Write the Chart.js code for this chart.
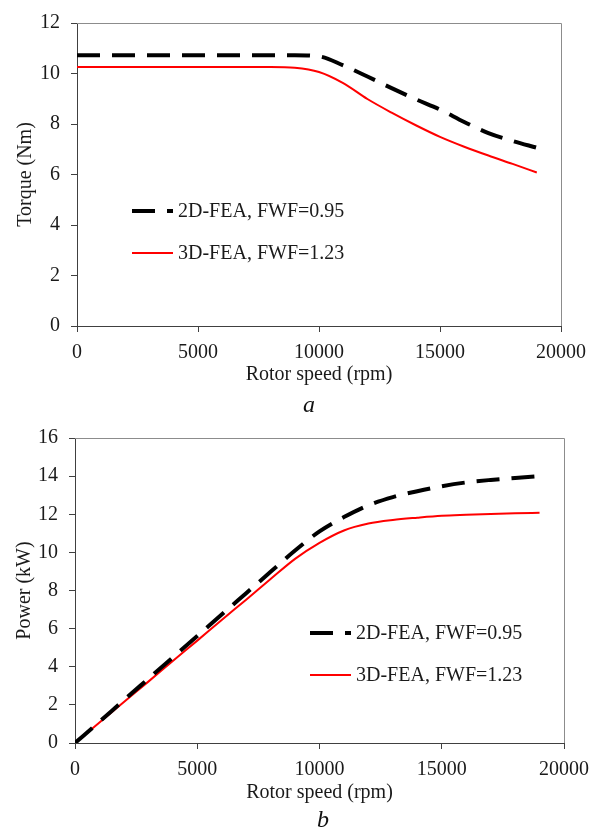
<!DOCTYPE html>
<html>
<head>
<meta charset="utf-8">
<script src="https://cdn.jsdelivr.net/npm/chart.js@4"></script>
<style>
  body { margin: 0; background: #fff; width: 601px; height: 834px; position: relative; overflow: hidden; font-family: 'Liberation Serif', 'Times New Roman', serif; }
  canvas { position: absolute; left: 0; }
  .cap { position: absolute; font-style: italic; font-size: 24px; color: #111; line-height: 24px; }
</style>
</head>
<body>
<canvas id="torqueChart" width="601" height="392" style="top:0"></canvas>
<div class="cap" style="left:303px;top:392px">a</div>
<canvas id="powerChart" width="601" height="392" style="top:415px"></canvas>
<div class="cap" style="left:317px;top:807px">b</div>
<script>
// rotor speed (rpm)
const rpm = [0, 1000, 2000, 3000, 4000, 5000, 6000, 7000, 8000, 9000,
             10000, 11000, 12000, 13000, 14000, 15000, 16000, 17000, 18000, 19000];

// torque (Nm)
const torque2D = [10.72, 10.72, 10.72, 10.72, 10.72, 10.72, 10.72, 10.72, 10.72, 10.72,
                  10.68, 10.32, 9.88, 9.42, 8.98, 8.57, 8.08, 7.64, 7.33, 7.06];
const torque3D = [10.26, 10.26, 10.26, 10.26, 10.26, 10.26, 10.26, 10.26, 10.26, 10.23,
                  10.06, 9.62, 8.99, 8.45, 7.95, 7.49, 7.10, 6.75, 6.42, 6.08];

// power (kW)
const power2D = [0, 1.12, 2.25, 3.37, 4.49, 5.61, 6.74, 7.86, 8.98, 10.10,
                 11.10, 11.85, 12.47, 12.90, 13.21, 13.47, 13.67, 13.80, 13.90, 14.00];
const power3D = [0, 1.07, 2.15, 3.22, 4.30, 5.37, 6.45, 7.52, 8.60, 9.66,
                 10.50, 11.15, 11.51, 11.70, 11.82, 11.92, 11.97, 12.01, 12.05, 12.08];

const labels2D = '2D-FEA, FWF=0.95';
const labels3D = '3D-FEA, FWF=1.23';

const fuente = "'Liberation Serif', 'Times New Roman', serif";
const texto = '#1a1a1a';
const ejeOscuro = '#404040';
const ejeClaro = '#8c8c8c';

// marco gris arriba/derecha + leyenda dentro del grafico
const extras = {
  id: 'extras',
  afterDraw(chart, args, opts) {
    const { ctx, chartArea: a } = chart;
    ctx.save();
    ctx.strokeStyle = ejeClaro;
    ctx.lineWidth = 1;
    ctx.beginPath();
    ctx.moveTo(a.left, a.top + 0.5);
    ctx.lineTo(a.right + 0.5, a.top + 0.5);
    ctx.lineTo(a.right + 0.5, a.bottom);
    ctx.stroke();

    chart.data.datasets.forEach((ds, i) => {
      const x = a.left + opts.x;
      const y = a.top + opts.y + i * opts.gap;
      ctx.beginPath();
      ctx.setLineDash(ds.borderDash || []);
      ctx.strokeStyle = ds.borderColor;
      ctx.lineWidth = ds.borderWidth;
      ctx.moveTo(x, y);
      ctx.lineTo(x + 41, y);
      ctx.stroke();
      ctx.setLineDash([]);
      ctx.fillStyle = texto;
      ctx.font = '20px ' + fuente;
      ctx.textBaseline = 'middle';
      ctx.fillText(ds.label, x + 46, y + 1);
    });
    ctx.restore();
  }
};

function serie(label, xs, ys, tipo) {
  const punteada = tipo === '2D';
  return {
    label,
    data: xs.map((x, i) => ({ x, y: ys[i] })),
    borderColor: punteada ? '#000000' : '#ff0000',
    borderWidth: punteada ? 4 : 2,
    borderDash: punteada ? [23, 12] : [],
    pointRadius: 0,
    cubicInterpolationMode: 'monotone',
    fill: false
  };
}

function creaGrafico(id, datasets, yMax, yTitulo, caja, leyenda) {
  const c = document.getElementById(id);
  const H = c.height;
  new Chart(c, {
    type: 'line',
    data: { datasets },
    plugins: [extras],
    options: {
      responsive: false,
      animation: false,
      layout: { padding: { left: caja.padLeft, right: 601 - caja.right, top: caja.top, bottom: caja.padBottom } },
      plugins: {
        legend: { display: false },
        tooltip: { enabled: false },
        extras: leyenda
      },
      scales: {
        x: {
          type: 'linear', min: 0, max: 20000,
          ticks: { stepSize: 5000, color: texto, font: { family: fuente, size: 20 }, padding: 9, maxRotation: 0,
                   callback: v => String(v) },
          grid: { drawOnChartArea: false, drawTicks: true, tickLength: 6, color: ejeOscuro },
          border: { color: ejeOscuro, width: 1 },
          title: { display: true, text: 'Rotor speed (rpm)', color: texto, font: { family: fuente, size: 20 }, padding: 0 },
          afterFit(s) { s.height = (H - caja.padBottom) - caja.bottom; }
        },
        y: {
          min: 0, max: yMax,
          ticks: { stepSize: 2, color: texto, font: { family: fuente, size: 20 }, padding: 11 },
          grid: { drawOnChartArea: false, drawTicks: true, tickLength: 6, color: ejeOscuro },
          border: { color: ejeOscuro, width: 1 },
          title: { display: true, text: yTitulo, color: texto, font: { family: fuente, size: 20 }, padding: 0 },
          afterFit(s) { s.width = caja.left - caja.padLeft; }
        }
      }
    }
  });
}

creaGrafico('torqueChart',
  [serie(labels2D, rpm, torque2D, '2D'), serie(labels3D, rpm, torque3D, '3D')],
  12, 'Torque (Nm)',
  { left: 77, right: 561, top: 15, bottom: 326, padLeft: 14, padBottom: 5 },
  { x: 55, y: 188, gap: 42 });

creaGrafico('powerChart',
  [serie(labels2D, rpm, power2D, '2D'), serie(labels3D, rpm, power3D, '3D')],
  16, 'Power (kW)',
  { left: 75, right: 564, top: 15, bottom: 328, padLeft: 12.5, padBottom: 2.5 },
  { x: 235, y: 195, gap: 42 });
</script>
</body>
</html>
